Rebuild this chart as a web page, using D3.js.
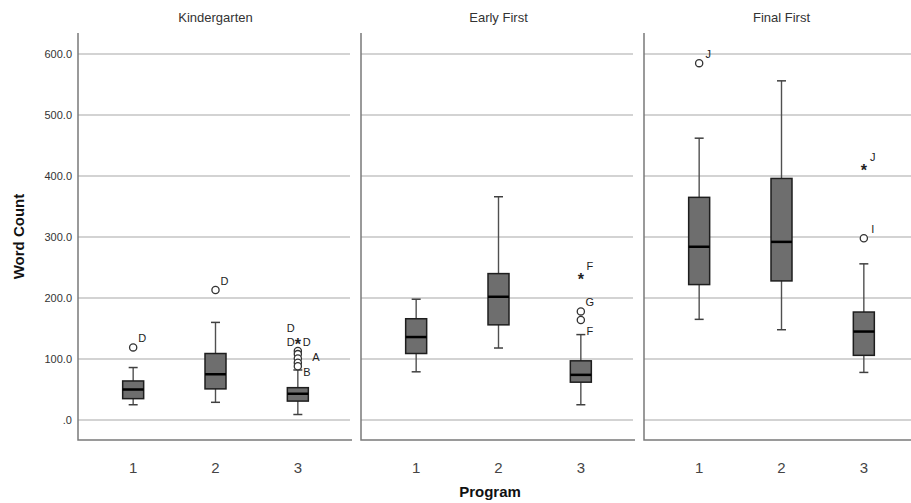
<!DOCTYPE html>
<html>
<head>
<meta charset="utf-8">
<script src="https://cdn.jsdelivr.net/npm/d3@7"></script>
<style>
  body { margin: 0; background: #fff; }
  text { font-family: "Liberation Sans", Arial, sans-serif; }
</style>
</head>
<body>
<script>
const PANELS = ["Kindergarten", "Early First", "Final First"];
const PROGRAMS = ["1", "2", "3"];
const Y_TICKS = [0, 100, 200, 300, 400, 500, 600];
const Y_TICK_LABELS = [".0", "100.0", "200.0", "300.0", "400.0", "500.0", "600.0"];

// [low whisker, Q1, median, Q3, high whisker] per program
const kindergarten = [[25, 35, 50, 64, 86], [29, 51, 75, 109, 160], [9, 31, 43, 53, 82]];
const earlyFirst = [[79, 109, 136, 166, 198], [118, 156, 202, 240, 366], [25, 62, 74, 97, 140]];
const finalFirst = [[165, 222, 284, 365, 462], [148, 228, 292, 396, 556], [78, 106, 145, 177, 256]];

// outliers: panel, program, value, kind
const outlierPanel = [0, 0, 0, 0, 0, 0, 0, 0, 1, 1, 1, 2, 2, 2];
const outlierProgram = ["1", "2", "3", "3", "3", "3", "3", "3", "3", "3", "3", "1", "3", "3"];
const outlierValue = [119, 213, 130, 113, 108, 101, 94, 88, 237, 178, 164, 585, 416, 298];
const outlierKind = ["o", "o", "*", "o", "o", "o", "o", "o", "*", "o", "o", "o", "*", "o"];

// case labels next to outliers: panel, program, value, text
const labelPanel = [0, 0, 0, 0, 0, 0, 0, 1, 1, 1, 2, 2, 2];
const labelProgram = ["1", "2", "3", "3", "3", "3", "3", "3", "3", "3", "1", "3", "3"];
const labelValue = [134, 228, 151, 128, 128, 103, 78, 252, 194, 146, 600, 431, 313];
const labelText = ["D", "D", "D", "D", "D", "A", "B", "F", "G", "F", "J", "J", "I"];
const labelSide = ["r", "r", "l", "l", "r", "rr", "r", "r", "r", "r", "r", "r", "r"];

const boxData = [kindergarten, earlyFirst, finalFirst];

const width = 911, height = 503;
const panelLeft = 78, panelStep = 283, panelGap = 8;
const plotTop = 33, plotBottom = 440;

document.addEventListener("DOMContentLoaded", function () {
  const svg = d3.select("body").append("svg")
    .attr("width", width)
    .attr("height", height);

  const y = d3.scaleLinear().domain([0, 600]).range([420, 54]);
  const panelX = d3.scaleBand().domain(d3.range(PANELS.length))
    .range([panelLeft, panelLeft + panelStep * PANELS.length]);
  const panelWidth = panelX.bandwidth() - panelGap;
  const x = d3.scalePoint().domain(PROGRAMS).range([0, panelWidth]).padding(0.67);

  // y tick labels
  svg.selectAll("text.ytick")
    .data(Y_TICKS)
    .enter().append("text")
      .attr("class", "ytick")
      .attr("x", panelLeft - 6)
      .attr("y", d => y(d))
      .attr("dy", "0.35em")
      .attr("text-anchor", "end")
      .attr("font-size", "11px")
      .attr("fill", "#333")
      .text((d, i) => Y_TICK_LABELS[i]);

  svg.append("text")
    .attr("transform", "translate(24," + ((plotTop + plotBottom) / 2) + ") rotate(-90)")
    .attr("text-anchor", "middle")
    .attr("font-size", "15px")
    .attr("font-weight", "bold")
    .attr("fill", "#111")
    .text("Word Count");

  svg.append("text")
    .attr("x", 490)
    .attr("y", 497)
    .attr("text-anchor", "middle")
    .attr("font-size", "15px")
    .attr("font-weight", "bold")
    .attr("fill", "#111")
    .text("Program");

  PANELS.forEach(function (name, p) {
    const x0 = panelX(p);
    const g = svg.append("g").attr("transform", "translate(" + x0 + ",0)");

    // gridlines
    g.selectAll("line.grid")
      .data(Y_TICKS)
      .enter().append("line")
        .attr("x1", 0).attr("x2", panelWidth - 3)
        .attr("y1", d => y(d)).attr("y2", d => y(d))
        .attr("stroke", "#c4c4c4")
        .attr("stroke-width", 1.5);

    // frame: left and bottom
    g.append("path")
      .attr("d", "M0," + plotTop + "V" + plotBottom + "H" + (panelWidth - 1))
      .attr("fill", "none")
      .attr("stroke", "#7a7a7a")
      .attr("stroke-width", 1.5);

    g.append("text")
      .attr("x", panelWidth / 2)
      .attr("y", 22)
      .attr("text-anchor", "middle")
      .attr("font-size", "13px")
      .attr("fill", "#333")
      .text(name);

    // x tick labels
    g.selectAll("text.xtick")
      .data(PROGRAMS)
      .enter().append("text")
        .attr("x", d => x(d))
        .attr("y", 473)
        .attr("text-anchor", "middle")
        .attr("font-size", "15px")
        .attr("fill", "#444")
        .text(d => d);

    const boxes = g.selectAll("g.box")
      .data(boxData[p].map((v, i) => ({ prog: PROGRAMS[i], v: v })))
      .enter().append("g")
        .attr("transform", d => "translate(" + x(d.prog) + ",0)");

    const bw = 21, cw = 9;
    boxes.append("line")
      .attr("y1", d => y(d.v[0])).attr("y2", d => y(d.v[4]))
      .attr("stroke", "#505050").attr("stroke-width", 1.4);
    boxes.append("line")
      .attr("x1", -cw / 2).attr("x2", cw / 2)
      .attr("y1", d => y(d.v[4])).attr("y2", d => y(d.v[4]))
      .attr("stroke", "#404040").attr("stroke-width", 1.5);
    boxes.append("line")
      .attr("x1", -cw / 2).attr("x2", cw / 2)
      .attr("y1", d => y(d.v[0])).attr("y2", d => y(d.v[0]))
      .attr("stroke", "#404040").attr("stroke-width", 1.5);
    boxes.append("rect")
      .attr("x", -bw / 2).attr("width", bw)
      .attr("y", d => y(d.v[3]))
      .attr("height", d => y(d.v[1]) - y(d.v[3]))
      .attr("fill", "#6e6e6e")
      .attr("stroke", "#1e1e1e")
      .attr("stroke-width", 1.5);
    boxes.append("line")
      .attr("x1", -bw / 2).attr("x2", bw / 2)
      .attr("y1", d => y(d.v[2])).attr("y2", d => y(d.v[2]))
      .attr("stroke", "#000").attr("stroke-width", 2.5);

    // outliers
    const outs = outlierValue.map((v, i) => ({ p: outlierPanel[i], prog: outlierProgram[i], v: v, k: outlierKind[i] }))
      .filter(d => d.p === p);
    g.selectAll("circle.out")
      .data(outs.filter(d => d.k === "o"))
      .enter().append("circle")
        .attr("cx", d => x(d.prog))
        .attr("cy", d => y(d.v))
        .attr("r", 3.6)
        .attr("fill", "#fff")
        .attr("stroke", "#333")
        .attr("stroke-width", 1.3);
    g.selectAll("text.star")
      .data(outs.filter(d => d.k === "*"))
      .enter().append("text")
        .attr("x", d => x(d.prog))
        .attr("y", d => y(d.v))
        .attr("dy", "0.6em")
        .attr("text-anchor", "middle")
        .attr("font-size", "16px")
        .attr("font-weight", "bold")
        .attr("fill", "#222")
        .text("*");

    const sideDx = { r: 9, l: -7, rr: 18 };
    const labs = labelValue.map((v, i) => ({ p: labelPanel[i], prog: labelProgram[i], v: v, t: labelText[i], s: labelSide[i] }))
      .filter(d => d.p === p);
    g.selectAll("text.lab")
      .data(labs)
      .enter().append("text")
        .attr("x", d => x(d.prog) + sideDx[d.s])
        .attr("y", d => y(d.v))
        .attr("dy", "0.35em")
        .attr("text-anchor", "middle")
        .attr("font-size", "11px")
        .attr("fill", "#222")
        .text(d => d.t);
  });
});
</script>
</body>
</html>
